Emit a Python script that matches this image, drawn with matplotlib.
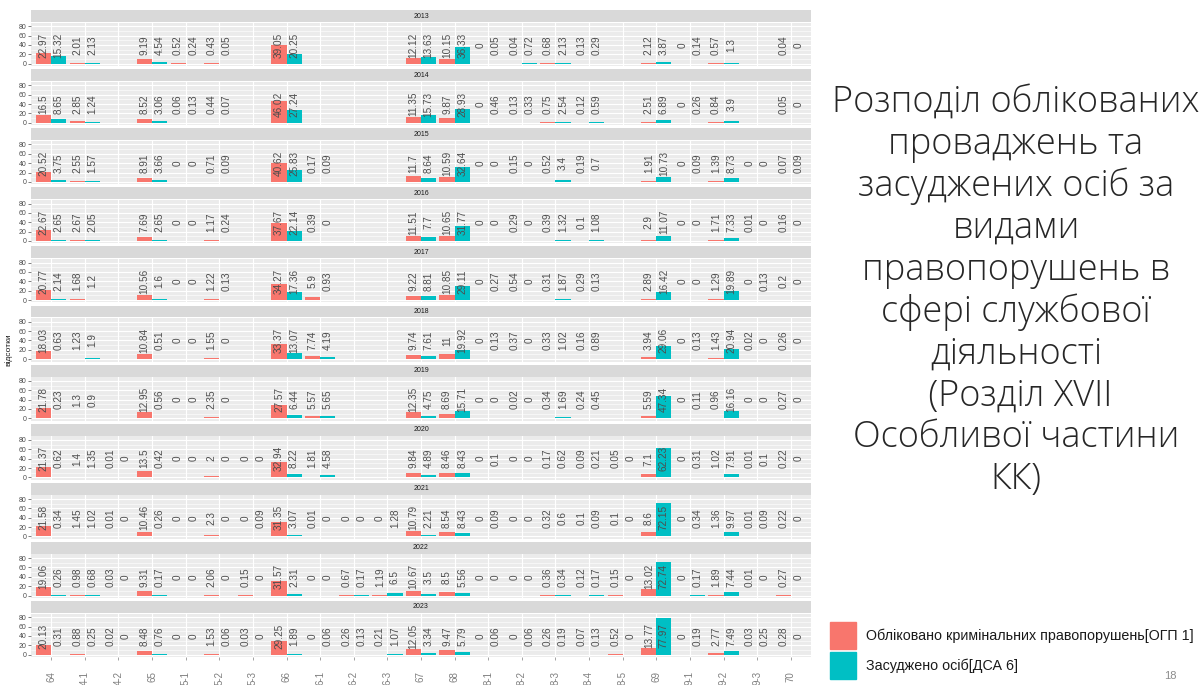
import numpy as np
import matplotlib.pyplot as plt
from matplotlib.patches import Rectangle

N = None  # no data for this article in that year

years = [2013, 2014, 2015, 2016, 2017, 2018, 2019, 2020, 2021, 2022, 2023]
articles = ["364", "364-1", "364-2", "365", "365-1", "365-2", "365-3", "366",
            "366-1", "366-2", "366-3", "367", "368", "368-1", "368-2", "368-3",
            "368-4", "368-5", "369", "369-1", "369-2", "369-3", "370"]
# the slide crops the axis labels, only their tails are visible
tick_labels = ["64", "4-1", "4-2", "65", "5-1", "5-2", "5-3", "66", "6-1", "6-2",
               "6-3", "67", "68", "8-1", "8-2", "8-3", "8-4", "8-5", "69", "9-1",
               "9-2", "9-3", "70"]

ogp_2013 = [22.97, 2.01, N, 9.19, 0.52, 0.43, N, 39.05, N, N, N, 12.12, 10.15, 0, 0.04, 0.68, 0.13, N, 2.12, 0, 0.57, N, 0.04]
dsa_2013 = [15.32, 2.13, N, 4.54, 0.24, 0.05, N, 20.25, N, N, N, 13.63, 36.33, 0.05, 0.72, 2.13, 0.29, N, 3.87, 0.14, 1.3, N, 0]
ogp_2014 = [16.5, 2.85, N, 8.52, 0.06, 0.44, N, 46.02, N, N, N, 11.35, 9.87, 0, 0.13, 0.75, 0.12, N, 2.51, 0, 0.84, N, 0.05]
dsa_2014 = [8.65, 1.24, N, 3.06, 0.13, 0.07, N, 27.24, N, N, N, 15.73, 28.93, 0.46, 0.33, 2.54, 0.59, N, 6.89, 0.26, 3.9, N, 0]
ogp_2015 = [20.52, 2.55, N, 8.91, 0, 0.71, N, 40.62, 0.17, N, N, 11.7, 10.59, 0, 0.15, 0.52, 0.19, N, 1.91, 0, 1.39, 0, 0.07]
dsa_2015 = [3.75, 1.57, N, 3.66, 0, 0.09, N, 25.83, 0.09, N, N, 8.64, 32.64, 0, 0, 3.4, 0.7, N, 10.73, 0.09, 8.73, 0, 0.09]
ogp_2016 = [22.67, 2.67, N, 7.69, 0, 1.17, N, 37.67, 0.39, N, N, 11.51, 10.65, 0, 0.29, 0.39, 0.1, N, 2.9, 0, 1.71, 0.01, 0.16]
dsa_2016 = [2.65, 2.05, N, 2.65, 0, 0.24, N, 22.14, 0, N, N, 7.7, 31.77, 0, 0, 1.32, 1.08, N, 11.07, 0, 7.33, 0, 0]
ogp_2017 = [20.77, 1.68, N, 10.56, 0, 1.22, N, 34.27, 5.9, N, N, 9.22, 10.85, 0, 0.54, 0.31, 0.29, N, 2.89, 0, 1.29, 0, 0.2]
dsa_2017 = [2.14, 1.2, N, 1.6, 0, 0.13, N, 17.36, 0.93, N, N, 8.81, 29.11, 0.27, 0, 1.87, 0.13, N, 16.42, 0, 19.89, 0.13, 0]
ogp_2018 = [18.03, 1.23, N, 10.84, 0, 1.55, N, 33.37, 7.74, N, N, 9.74, 11, 0, 0.37, 0.33, 0.16, N, 3.94, 0, 1.43, 0.02, 0.26]
dsa_2018 = [0.63, 1.9, N, 0.51, 0, 0, N, 13.07, 4.19, N, N, 7.61, 19.92, 0.13, 0, 1.02, 0.89, N, 29.06, 0.13, 20.94, 0, 0]
ogp_2019 = [21.78, 1.3, N, 12.95, 0, 2.35, N, 27.57, 5.57, N, N, 12.35, 8.69, 0, 0.02, 0.34, 0.24, N, 5.59, 0, 0.96, 0, 0.27]
dsa_2019 = [0.23, 0.9, N, 0.56, 0, 0, N, 6.44, 5.65, N, N, 4.75, 15.71, 0, 0, 1.69, 0.45, N, 47.34, 0.11, 16.16, 0, 0]
ogp_2020 = [21.37, 1.4, 0.01, 13.5, 0, 2, 0, 32.94, 1.81, N, N, 9.84, 8.46, 0, 0, 0.17, 0.09, 0.05, 7.1, 0, 1.02, 0.01, 0.22]
dsa_2020 = [0.62, 1.35, 0, 0.42, 0, 0, 0, 8.22, 4.58, N, N, 4.89, 8.43, 0.1, 0, 0.62, 0.21, 0, 62.23, 0.31, 7.91, 0.1, 0]
ogp_2021 = [21.58, 1.45, 0.01, 10.46, 0, 2.3, 0, 31.35, 0.01, 0, 0, 10.79, 8.54, 0, 0, 0.32, 0.1, 0.1, 8.6, 0, 1.36, 0.01, 0.22]
dsa_2021 = [0.34, 1.02, 0, 0.26, 0, 0, 0.09, 3.07, 0, 0, 1.28, 2.21, 8.43, 0.09, 0, 0.6, 0.09, 0, 72.15, 0.34, 9.97, 0.09, 0]
ogp_2022 = [19.06, 0.98, 0.03, 9.31, 0, 2.06, 0.15, 31.57, 0, 0.67, 1.19, 10.67, 8.5, 0, 0, 0.36, 0.12, 0.15, 13.02, 0, 1.89, 0.01, 0.27]
dsa_2022 = [0.26, 0.68, 0, 0.17, 0, 0, 0, 2.31, 0, 0.17, 6.5, 3.5, 5.56, 0, 0, 0.34, 0.17, 0, 72.74, 0.17, 7.44, 0, 0]
ogp_2023 = [20.13, 0.88, 0.02, 8.48, 0, 1.53, 0.03, 29.25, 0, 0.26, 0.21, 12.05, 9.47, 0, 0, 0.26, 0.07, 0.52, 13.77, 0, 2.77, 0.03, 0.28]
dsa_2023 = [0.31, 0.25, 0, 0.76, 0, 0.06, 0, 1.89, 0.06, 0.13, 1.07, 3.34, 5.79, 0.06, 0.06, 0.19, 0.13, 0, 77.97, 0.19, 7.49, 0.25, 0]

ogp_by_year = [ogp_2013, ogp_2014, ogp_2015, ogp_2016, ogp_2017, ogp_2018,
               ogp_2019, ogp_2020, ogp_2021, ogp_2022, ogp_2023]
dsa_by_year = [dsa_2013, dsa_2014, dsa_2015, dsa_2016, dsa_2017, dsa_2018,
               dsa_2019, dsa_2020, dsa_2021, dsa_2022, dsa_2023]

legend_labels = ["Обліковано кримінальних правопорушень[ОГП 1]", "Засуджено осіб[ДСА 6]"]
title_text = ("Розподіл облікованих\nпроваджень та\nзасуджених осіб за\nвидами\n"
              "правопорушень в\nсфері службової\nдіяльності\n (Розділ XVII\n"
              "Особливої частини\nКК)")

RED = "#F8766D"
CYAN = "#00BFC4"
W, H = 1201, 685

plt.rcParams["font.family"] = ["Liberation Sans", "DejaVu Sans"]
fig = plt.figure(figsize=(W / 100, H / 100), dpi=100)


def px_box(x, y, w, h):
    return [x / W, 1 - (y + h) / H, w / W, h / H]


x = np.arange(len(articles))
bw = 0.45
left, right = 31, 811
pitch = 59.1

for i, year in enumerate(years):
    top = 10 + pitch * i
    # strip with year
    sax = fig.add_axes(px_box(left, top, right - left, 12))
    sax.set_facecolor("#D9D9D9")
    sax.set_xticks([])
    sax.set_yticks([])
    for s in sax.spines.values():
        s.set_visible(False)
    sax.text(0.5, 0.5, str(year), ha="center", va="center", fontsize=5, color="#1A1A1A",
             transform=sax.transAxes)

    ax = fig.add_axes(px_box(left, top + 12.5, right - left, 43.5))
    ax.set_facecolor("#EBEBEB")
    for s in ax.spines.values():
        s.set_visible(False)
    ogp = np.array([np.nan if v is None else v for v in ogp_by_year[i]], dtype=float)
    dsa = np.array([np.nan if v is None else v for v in dsa_by_year[i]], dtype=float)
    ax.bar(x - bw / 2, np.nan_to_num(ogp), bw, color=RED, zorder=2)
    ax.bar(x + bw / 2, np.nan_to_num(dsa), bw, color=CYAN, zorder=2)
    for j in range(len(articles)):
        for off, v in ((-bw / 2, ogp[j]), (bw / 2, dsa[j])):
            if np.isnan(v):
                continue
            ax.text(x[j] + off, 40, f"{v:g}", rotation=90, ha="center", va="center",
                    fontsize=7.2, color="#4D4D4D", zorder=3)
    ax.set_xlim(-0.6, len(articles) - 0.4)
    ax.set_ylim(-5, 88)
    ax.set_yticks([0, 20, 40, 60, 80])
    ax.set_yticks([10, 30, 50, 70], minor=True)
    ax.set_xticks(x)
    ax.grid(True, which="major", color="white", linewidth=0.8, zorder=0)
    ax.grid(True, which="minor", axis="y", color="white", linewidth=0.4, zorder=0)
    ax.set_axisbelow(True)
    ax.tick_params(axis="y", which="major", labelsize=5, colors="#4D4D4D", length=2, width=0.5, pad=1)
    ax.tick_params(axis="y", which="minor", length=0)
    ax.tick_params(axis="x", length=2, width=0.5, colors="#7F7F7F", labelsize=7, pad=8)
    if i == len(years) - 1:
        ax.set_xticklabels(tick_labels, rotation=90, va="top")
    else:
        ax.set_xticklabels([])
        ax.tick_params(axis="x", length=0)

fig.text(8 / W, 1 - 350 / H, "відсотки", rotation=90, ha="center", va="center",
         fontsize=6, color="#1A1A1A")

fig.text(1016 / W, 1 - 291 / H, title_text, ha="center", va="center", fontsize=26,
         family=["Open Sans", "DejaVu Sans"], fontweight="light", color="#262626",
         linespacing=1.17)

for k, (col, lab) in enumerate(zip([RED, CYAN], legend_labels)):
    ytop = 622 + 30 * k
    fig.add_artist(Rectangle((830 / W, 1 - (ytop + 27) / H), 26 / W, 27 / H,
                             transform=fig.transFigure, color=col))
    fig.text(866 / W, 1 - (ytop + 14) / H, lab, ha="left", va="center", fontsize=10.3,
             color="#1A1A1A")

fig.text(1170 / W, 1 - 676 / H, "18", ha="center", va="center", fontsize=8, color="#8C8C8C")

fig.savefig("out.png", dpi=100)
